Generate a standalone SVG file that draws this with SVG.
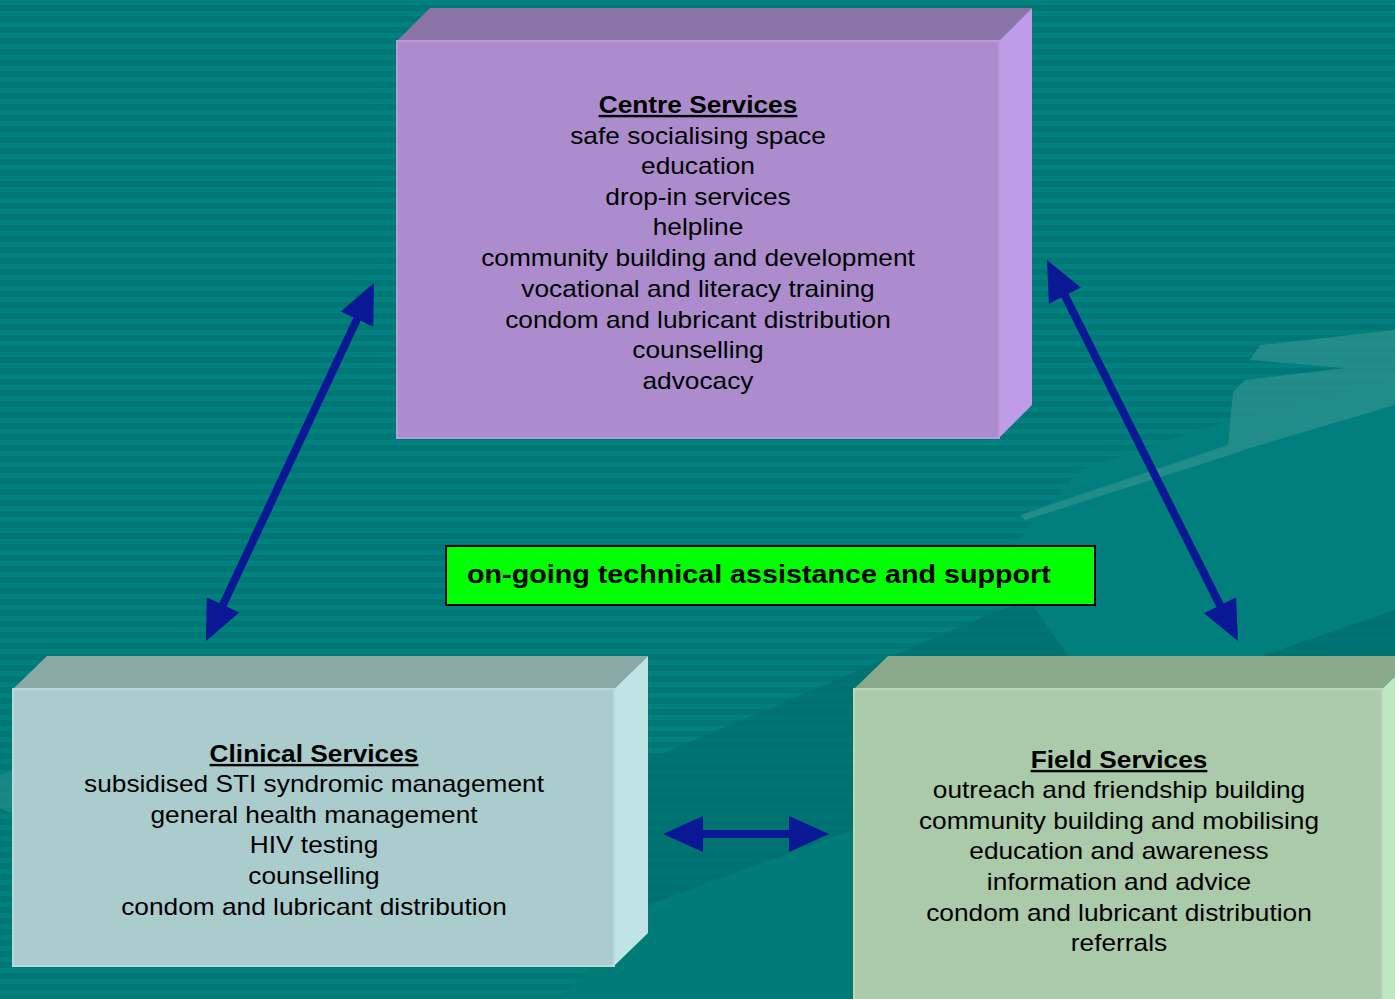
<svg xmlns="http://www.w3.org/2000/svg" width="1395" height="999" viewBox="0 0 1395 999">
<defs>
<pattern id="stripes" x="0" y="0" width="20" height="11" patternUnits="userSpaceOnUse">
<rect width="20" height="11" fill="#007775"/>
<rect y="0" width="20" height="5" fill="#00807e"/>
</pattern>
<marker id="ah" viewBox="0 0 40 36" markerUnits="userSpaceOnUse" markerWidth="40" markerHeight="36" refX="20" refY="18" orient="auto-start-reverse">
<path d="M0,0 L40,18 L0,36 Z" fill="#0a1896"/>
</marker>
<style>
.t{font-family:"Liberation Sans",Arial,sans-serif;font-size:24px;fill:#000;text-anchor:middle}
.h{font-weight:bold;text-decoration:underline}
.arr{stroke:#0a1896;stroke-width:8;fill:none;marker-start:url(#ah);marker-end:url(#ah)}
</style>
</defs>
<g id="background">
<rect width="1395" height="999" fill="url(#stripes)"/>
<path d="M560,999 L648,905 L880,820 L1120,700 L1395,640 L1395,999 Z" fill="#007b79" opacity="0.9"/>
<path d="M648,760 L1000,610 L1250,540 L1395,520 L1395,760 L1300,850 L1100,820 L880,820 L648,905 Z" fill="#006f6d" opacity="0.7"/>
<path d="M1000,560 L1080,470 L1230,420 L1395,380 L1395,610 L1250,660 L1100,700 Z" fill="#007f7c"/>
<path d="M1025,520 L1230,455 L1250,448 L1395,405 L1395,330 L1260,345 L1250,360 L1345,368 L1245,380 L1233,392 L1228,445 L1020,515 Z" fill="#2a908d" opacity="0.8"/>
<path d="M0,775 L15,770 L15,815 L0,808 Z" fill="#2a908d" opacity="0.6"/>
</g>
<g id="connectors">
<line class="arr" x1="214.5" y1="622.9" x2="365.5" y2="301.1"/>
<line class="arr" x1="1056" y1="277.9" x2="1229" y2="623.1"/>
<line class="arr" x1="683" y1="834" x2="809" y2="834"/>
</g>
<g id="centre">
<polygon points="397,41 430,8 1032,8 999,41" fill="#8c74a8"/>
<polygon points="999,41 1032,8 1032,405 999,438" fill="#c09ce8"/>
<rect x="397" y="41" width="602" height="397" fill="#ac8ccc" stroke="#b89ad8" stroke-width="2"/>
<g transform="translate(698 0) scale(1.095 1)">
<text class="t h" x="0" y="113">Centre Services</text>
<text class="t" x="0" y="144">safe socialising space</text>
<text class="t" x="0" y="174">education</text>
<text class="t" x="0" y="205">drop-in services</text>
<text class="t" x="0" y="235">helpline</text>
<text class="t" x="0" y="266">community building and development</text>
<text class="t" x="0" y="297">vocational and literacy training</text>
<text class="t" x="0" y="328">condom and lubricant distribution</text>
<text class="t" x="0" y="358">counselling</text>
<text class="t" x="0" y="389">advocacy</text>
</g>
</g>
<g id="support">
<rect x="446" y="546" width="649" height="59" fill="#00ff00" stroke="#000" stroke-width="2"/>
<text transform="translate(467 583) scale(1.105 1)" x="0" y="0" style="font-family:'Liberation Sans',Arial,sans-serif;font-size:26px;font-weight:bold" fill="#000">on-going technical assistance and support</text>
</g>
<g id="clinical">
<polygon points="13,689 47,656 648,656 614,689" fill="#8aa8a6"/>
<polygon points="614,689 648,656 648,933 614,966" fill="#c0e4e4"/>
<rect x="13" y="689" width="601" height="277" fill="#aacccc" stroke="#b8dada" stroke-width="2"/>
<g transform="translate(314 0) scale(1.095 1)">
<text class="t h" x="0" y="762">Clinical Services</text>
<text class="t" x="0" y="792">subsidised STI syndromic management</text>
<text class="t" x="0" y="823">general health management</text>
<text class="t" x="0" y="853">HIV testing</text>
<text class="t" x="0" y="884">counselling</text>
<text class="t" x="0" y="915">condom and lubricant distribution</text>
</g>
</g>
<g id="field">
<polygon points="854,689 888,656 1416,656 1382,689" fill="#8aa88a"/>
<polygon points="1382,689 1416,656 1416,999 1382,999" fill="#c0e8c0"/>
<rect x="854" y="689" width="528" height="320" fill="#aacaaa" stroke="#b8d8b8" stroke-width="2"/>
<g transform="translate(1119 0) scale(1.095 1)">
<text class="t h" x="0" y="768">Field Services</text>
<text class="t" x="0" y="798">outreach and friendship building</text>
<text class="t" x="0" y="829">community building and mobilising</text>
<text class="t" x="0" y="859">education and awareness</text>
<text class="t" x="0" y="890">information and advice</text>
<text class="t" x="0" y="921">condom and lubricant distribution</text>
<text class="t" x="0" y="951">referrals</text>
</g>
</g>
</svg>
